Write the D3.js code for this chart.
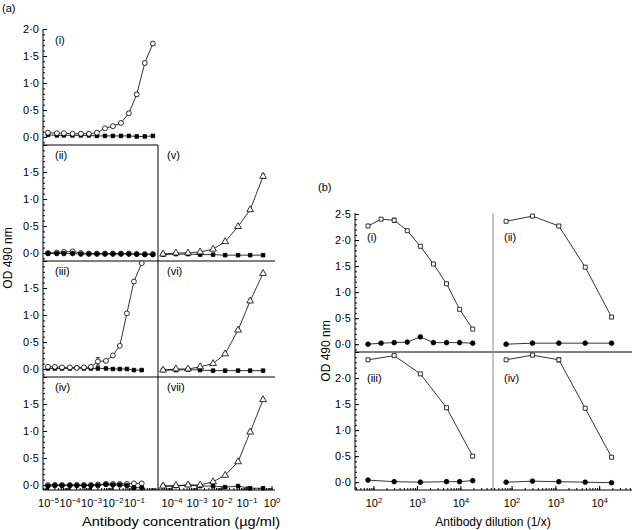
<!DOCTYPE html>
<html>
<head>
<meta charset="utf-8">
<script src="https://cdn.jsdelivr.net/npm/d3@7"></script>
<style>
  body { margin: 0; background: #fff; }
  text { font-family: "Liberation Sans", Arial, Helvetica, sans-serif; fill: #000; }
</style>
</head>
<body>
<svg id="chart" width="632" height="530"></svg>
<script>
// ---- (a) antibody concentration (ug/ml) ----
const concI = [1e-5, 2.6e-5, 5.5e-5, 1.4e-4, 3.4e-4, 8e-4, 1.9e-3, 4.5e-3, 1.05e-2, 2.5e-2, 5.8e-2, 0.135, 0.32, 0.76];
const concIII = [1e-5, 2.1e-5, 4.5e-5, 1.05e-4, 2.2e-4, 4.7e-4, 1e-3, 2.1e-3, 5e-3, 1.05e-2, 2.2e-2, 4.7e-2, 0.1, 0.23];
const concV = [4.6e-5, 1.5e-4, 4.6e-4, 1.4e-3, 4.6e-3, 1.4e-2, 4.6e-2, 0.14, 0.46];

const odI_open = [0.08, 0.07, 0.07, 0.06, 0.06, 0.06, 0.08, 0.16, 0.20, 0.26, 0.44, 0.79, 1.37, 1.73];
const errI_open = [0, 0, 0, 0, 0, 0, 0, 0, 0, 0, 0.03, 0.03, 0.03, 0.03];
const odI_fill = [0.04, 0.03, 0.03, 0.03, 0.03, 0.03, 0.02, 0.02, 0.02, 0.02, 0.02, 0.01, 0.01, 0.02];

const odII_open = [0.0, 0.01, 0.02, 0.03, 0.0, -0.01, -0.01, -0.01, -0.01, -0.01, -0.01, -0.02, -0.02, -0.02];
const odII_fill = [-0.01, -0.01, -0.01, -0.01, -0.02, -0.02, -0.02, -0.02, -0.02, -0.02, -0.02, -0.02, -0.03, -0.03];

const odIII_open = [0.04, 0.04, 0.03, 0.03, 0.02, 0.03, 0.04, 0.14, 0.15, 0.25, 0.43, 1.03, 1.62, 1.96];
const errIII_open = [0, 0, 0, 0, 0, 0, 0, 0.07, 0, 0, 0, 0, 0, 0];
const odIII_fill = [0.01, 0.01, 0.01, 0.01, 0.02, 0.01, 0.01, 0.01, 0.01, 0.0, 0.0, 0.0, -0.02, -0.02];

const odIV_open = [0.0, 0.0, 0.0, 0.0, 0.0, 0.0, 0.0, 0.01, 0.02, 0.02, 0.02, 0.02, 0.03, 0.03];
const odIV_fill = [-0.02, -0.01, -0.01, -0.01, -0.01, -0.01, -0.01, -0.01, 0.01, 0.0, 0.0, -0.01, -0.05, -0.05];

const odV_open = [-0.02, 0.0, 0.0, 0.02, 0.07, 0.21, 0.49, 0.80, 1.42];
const errV_open = [0, 0, 0, 0, 0, 0, 0, 0.02, 0.04];
const odV_fill = [-0.03, -0.02, -0.02, -0.03, -0.03, -0.04, -0.04, -0.04, -0.04];

const odVI_open = [-0.02, 0.0, 0.0, 0.04, 0.10, 0.28, 0.72, 1.26, 1.77];
const errVI_open = [0, 0, 0, 0, 0, 0, 0.02, 0.03, 0.02];
const odVI_fill = [-0.02, -0.02, -0.01, -0.02, -0.03, -0.03, -0.03, -0.03, -0.03];

const odVII_open = [-0.02, -0.01, 0.0, 0.0, 0.06, 0.18, 0.43, 0.98, 1.58];
const errVII_open = [0, 0, 0, 0, 0, 0, 0, 0.02, 0.02];
const odVII_fill = [-0.02, -0.02, 0.0, -0.02, -0.02, -0.04, -0.02, -0.06, -0.06];

// ---- (b) antibody dilution (1/x) ----
const dil9 = [75, 150, 300, 600, 1200, 2400, 4800, 9600, 19200];
const dil5 = [75, 300, 1200, 4800, 19200];
const dil6 = [75, 300, 1200, 4800, 9600, 19200];

const bI_sq = [2.27, 2.40, 2.38, 2.18, 1.88, 1.54, 1.16, 0.67, 0.29];
const errbI_sq = [0, 0, 0.04, 0, 0, 0, 0, 0, 0];
const bI_dot = [0.0, 0.02, 0.03, 0.04, 0.14, 0.03, 0.03, 0.03, 0.02];
const bII_sq = [2.36, 2.46, 2.27, 1.48, 0.52];
const bII_dot = [0.0, 0.02, 0.02, 0.02, 0.02];
const bIII_sq = [2.35, 2.43, 2.08, 1.43, 0.50];
const bIII_dot = [0.04, 0.01, 0.0, 0.01, 0.01, 0.03];
const bIV_sq = [2.35, 2.44, 2.35, 1.42, 0.48];
const errbIV_sq = [0, 0, 0.04, 0, 0];
const bIV_dot = [0.0, 0.02, 0.01, 0.0, -0.01];

const yTicksA = [0, 0.5, 1.0, 1.5, 2.0];
const yTicksB = [0, 0.5, 1.0, 1.5, 2.0, 2.5];

const svg = d3.select("#chart");
const fmt = (d) => d3.format(".1f")(d).replace(".", "\u00b7");
const sup = { "-5": "\u22125", "-4": "\u22124", "-3": "\u22123", "-2": "\u22122", "-1": "\u22121" };

const symbols = {
  circOpen: { type: d3.symbolCircle, size: 19, fill: "#fff" },
  circFill: { type: d3.symbolCircle, size: 17, fill: "#000" },
  sqFill: { type: d3.symbolSquare, size: 13, fill: "#000" },
  sqOpen: { type: d3.symbolSquare, size: 16, fill: "#fff" },
  triOpen: { type: d3.symbolTriangle, size: 20, fill: "#fff" },
};

function line(x1, y1, x2, y2, color) {
  svg.append("line")
    .attr("x1", x1).attr("y1", y1).attr("x2", x2).attr("y2", y2)
    .attr("stroke", color || "#000").attr("stroke-width", 1);
}

function drawSeries(x, y, xs, ys, errs, sym) {
  const g = svg.append("g");
  const pts = xs.map((d, i) => ({ x: d, y: ys[i], e: errs ? errs[i] : 0 }));
  g.append("path")
    .datum(pts)
    .attr("fill", "none")
    .attr("stroke", "#000")
    .attr("stroke-width", 0.8)
    .attr("d", d3.line().x((d) => x(d.x)).y((d) => y(d.y)));
  pts.filter((d) => d.e > 0).forEach((d) => {
    const cx = x(d.x);
    g.append("path")
      .attr("fill", "none").attr("stroke", "#000").attr("stroke-width", 0.8)
      .attr("d", `M${cx - 2},${y(d.y + d.e)}H${cx + 2}M${cx},${y(d.y + d.e)}V${y(d.y - d.e)}M${cx - 2},${y(d.y - d.e)}H${cx + 2}`);
  });
  const s = symbols[sym];
  g.selectAll(".pt")
    .data(pts)
    .join("path")
    .attr("class", "pt")
    .attr("transform", (d) => `translate(${x(d.x)},${y(d.y)})`)
    .attr("d", d3.symbol().type(s.type).size(s.size))
    .attr("fill", s.fill)
    .attr("stroke", "#000")
    .attr("stroke-width", 0.8);
}

function yAxis(x0, y, labels, majors, minors) {
  const g = svg.append("g").attr("transform", `translate(${x0},0)`);
  g.call(d3.axisLeft(y).tickValues(minors).tickSize(-2).tickFormat(""));
  g.call((gg) => gg.select(".domain").remove());
  const gm = svg.append("g").attr("transform", `translate(${x0},0)`);
  gm.call(d3.axisLeft(y).tickValues(majors).tickSize(-4).tickPadding(4)
    .tickFormat((d) => (labels.includes(d) ? fmt(d) : "")));
  gm.select(".domain").remove();
  gm.selectAll("text").attr("font-size", 11).attr("font-family", null);
}

function xAxisLog(y0, x, majors, fontSize) {
  const [a, b] = x.domain();
  const minors = x.ticks().filter((d) => d >= a && d <= b);
  const g = svg.append("g").attr("transform", `translate(0,${y0})`);
  g.call(d3.axisBottom(x).tickValues(minors).tickSize(-2).tickFormat(""));
  g.select(".domain").remove();
  const gm = svg.append("g").attr("transform", `translate(0,${y0})`);
  gm.call(d3.axisBottom(x).tickValues(majors).tickSize(-4).tickPadding(9).tickFormat(""));
  gm.select(".domain").remove();
  gm.selectAll(".tick text").each(function (d) {
    const t = d3.select(this).attr("font-size", fontSize).attr("font-family", null);
    const e = Math.round(Math.log10(d));
    t.append("tspan").text("10");
    t.append("tspan").attr("dy", "-0.45em").attr("font-size", 7.5).text(sup[e] || String(e));
  });
}

// ================= (a) =================
const rowTops = [29, 145, 261, 377];
const xA = [
  d3.scaleLog().domain([Math.pow(10, -5.23), Math.pow(10, 0.12)]).range([43, 158]),
  d3.scaleLog().domain([Math.pow(10, -4.54), Math.pow(10, 0.14)]).range([158, 275]),
];
const yA = rowTops.map((t) => d3.scaleLinear().domain([0, 2]).range([t + 108, t]));
const bottomA = 490;

const panelsA = [
  { label: "(i)", col: 0, row: 0, x: concI, series: [[odI_fill, null, "sqFill"], [odI_open, errI_open, "circOpen"]] },
  { label: "(ii)", col: 0, row: 1, x: concI, series: [[odII_open, null, "circOpen"], [odII_fill, null, "circFill"]] },
  { label: "(iii)", col: 0, row: 2, x: concIII, series: [[odIII_fill, null, "sqFill"], [odIII_open, errIII_open, "circOpen"]] },
  { label: "(iv)", col: 0, row: 3, x: concIII, series: [[odIV_open, null, "circOpen"], [odIV_fill, null, "circFill"]] },
  { label: "(v)", col: 1, row: 1, x: concV, series: [[odV_fill, null, "sqFill"], [odV_open, errV_open, "triOpen"]] },
  { label: "(vi)", col: 1, row: 2, x: concV, series: [[odVI_fill, null, "sqFill"], [odVI_open, errVI_open, "triOpen"]] },
  { label: "(vii)", col: 1, row: 3, x: concV, series: [[odVII_fill, null, "sqFill"], [odVII_open, errVII_open, "triOpen"]] },
];

// frame
line(43, 29, 43, bottomA);
line(43, rowTops[1], 158, rowTops[1]);
line(43, rowTops[2], 275, rowTops[2]);
line(43, rowTops[3], 275, rowTops[3]);
line(43, bottomA, 275, bottomA);
line(158, rowTops[1], 158, bottomA);

const minorA = d3.range(-1, 21).map((d) => d / 10);
rowTops.forEach((t, r) => {
  yAxis(43, yA[r], r === 0 ? yTicksA : yTicksA.slice(0, 4), yTicksA, minorA.filter((v) => yA[r](v) <= Math.min(bottomA, t + 115)));
});

xAxisLog(bottomA, xA[0], [1e-5, 1e-4, 1e-3, 1e-2, 1e-1], 11);
xAxisLog(bottomA, xA[1], [1e-4, 1e-3, 1e-2, 1e-1, 1], 11);

panelsA.forEach((p) => {
  p.series.forEach(([ys, errs, sym]) => drawSeries(xA[p.col], yA[p.row], p.x, ys, errs, sym));
  svg.append("text")
    .attr("x", p.col === 0 ? 55 : 167)
    .attr("y", rowTops[p.row] + (p.row === 0 ? 15 : 14))
    .attr("font-size", 11)
    .text(p.label);
});

svg.append("text").attr("x", 2).attr("y", 12).attr("font-size", 11).text("(a)");
svg.append("text")
  .attr("transform", "translate(12,258) rotate(-90)")
  .attr("text-anchor", "middle").attr("font-size", 12)
  .text("OD 490 nm");
svg.append("text")
  .attr("x", 181).attr("y", 526)
  .attr("text-anchor", "middle").attr("font-size", 12)
  .attr("textLength", 198).attr("lengthAdjust", "spacingAndGlyphs")
  .text("Antibody concentration (\u00b5g/ml)");

// ================= (b) =================
const domB = [Math.pow(10, 1.576), Math.pow(10, 4.75)];
const xB = [
  d3.scaleLog().domain(domB).range([355, 493]),
  d3.scaleLog().domain(domB).range([493, 632]),
];
const yB = [
  d3.scaleLinear().domain([0, 2.5]).range([344.2, 214]),
  d3.scaleLinear().domain([0, 2.5]).range([482.2, 352]),
];
const bottomB = 490;

const panelsB = [
  { label: "(i)", col: 0, row: 0, series: [[dil9, bI_sq, errbI_sq, "sqOpen"], [dil9, bI_dot, null, "circFill"]] },
  { label: "(ii)", col: 1, row: 0, series: [[dil5, bII_sq, null, "sqOpen"], [dil5, bII_dot, null, "circFill"]] },
  { label: "(iii)", col: 0, row: 1, series: [[dil5, bIII_sq, null, "sqOpen"], [dil6, bIII_dot, null, "circFill"]] },
  { label: "(iv)", col: 1, row: 1, series: [[dil5, bIV_sq, errbIV_sq, "sqOpen"], [dil5, bIV_dot, null, "circFill"]] },
];

line(355, 213, 355, bottomB);
line(355, 352, 632, 352);
line(355, bottomB, 632, bottomB);
line(493, 213, 493, bottomB, "#8a8a8a");

const minorB = d3.range(-1, 26).map((d) => d / 10);
yAxis(355, yB[0], yTicksB, yTicksB, minorB.filter((v) => yB[0](v) <= 352));
yAxis(355, yB[1], yTicksB.slice(0, 5), yTicksB, minorB.filter((v) => yB[1](v) <= bottomB));

xAxisLog(bottomB, xB[0], [100, 1000, 10000], 11);
xAxisLog(bottomB, xB[1], [100, 1000, 10000], 11);

panelsB.forEach((p) => {
  p.series.forEach(([xs, ys, errs, sym]) => drawSeries(xB[p.col], yB[p.row], xs, ys, errs, sym));
  svg.append("text")
    .attr("x", p.col === 0 ? 367 : 504)
    .attr("y", p.row === 0 ? 241 : 382)
    .attr("font-size", 11)
    .text(p.label);
});

svg.append("text").attr("x", 318).attr("y", 191).attr("font-size", 11).text("(b)");
svg.append("text")
  .attr("transform", "translate(330,351) rotate(-90)")
  .attr("text-anchor", "middle").attr("font-size", 12)
  .text("OD 490 nm");
svg.append("text")
  .attr("x", 493).attr("y", 526)
  .attr("text-anchor", "middle").attr("font-size", 12)
  .text("Antibody dilution (1/x)");
</script>
</body>
</html>
